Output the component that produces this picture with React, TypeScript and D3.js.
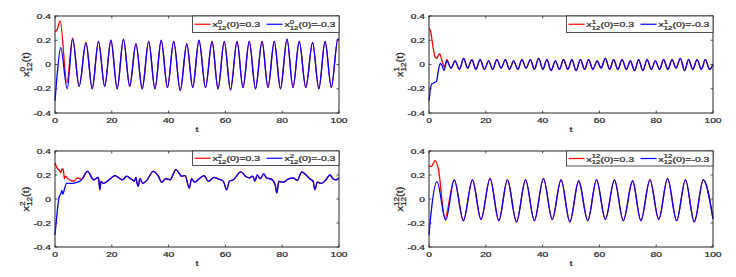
import React from "react";
import * as d3 from "d3";

type Pt = [number, number];

// ---------- data (t, value) ----------
const xTicks = [0, 20, 40, 60, 80, 100];
const yTicks = [-0.4, -0.2, 0, 0.2, 0.4];
const yTickLabels = ["-0.4", "-0.2", "0", "0.2", "0.4"];

// panel 1 (x^0_12)
const p1RedStart: Pt[] = [[0, 0.27], [0.8, 0.29], [1.8, 0.36], [4.2, -0.15], [6.2, 0.22]];
const p1BlueStart: Pt[] = [[0, -0.3], [0.7, -0.1], [2.0, 0.14], [4.3, -0.2], [6.2, 0.21]];
const p1Common: Pt[] = [
  [8.5, -0.18], [10.9, 0.18], [13.1, -0.2], [15.3, 0.19], [17.5, -0.18], [19.7, 0.2],
  [21.9, -0.2], [24.1, 0.21], [26.3, -0.18], [28.5, 0.17], [30.7, -0.2], [33.0, 0.19],
  [35.2, -0.2], [37.4, 0.2], [39.6, -0.19], [41.8, 0.19], [44.1, -0.215], [46.4, 0.17],
  [48.5, -0.19], [50.7, 0.2], [53.0, -0.19], [55.3, 0.19], [57.4, -0.2], [59.6, 0.19],
  [61.8, -0.21], [64.1, 0.19], [66.2, -0.19], [68.4, 0.19], [70.6, -0.2], [72.9, 0.19],
  [75.0, -0.19], [77.2, 0.19], [79.4, -0.2], [81.7, 0.21], [83.8, -0.19], [86.0, 0.19],
  [88.3, -0.19], [90.7, 0.18], [92.9, -0.2], [95.1, 0.19], [97.3, -0.19], [99.6, 0.21],
  [100, 0.205],
];

// panel 2 (x^1_12)
const p2RedStart: Pt[] = [
  [0, 0.3], [0.6, 0.27], [1.2, 0.18], [2.0, 0.07], [2.6, 0.05], [3.0, 0.06], [3.7, 0.09],
  [4.6, 0.03], [5.4, -0.02], [6.3, 0.04],
];
const p2BlueStart: Pt[] = [
  [0, -0.3], [0.5, -0.2], [1.0, -0.16], [1.8, -0.15], [2.6, -0.14], [3.3, -0.05],
  [4.0, 0.01], [4.6, -0.01], [5.3, -0.05], [6.3, 0.03],
];
const p2Common: Pt[] = [
  [7.75, -0.03], [9.2, 0.03], [10.7, -0.04], [12.2, 0.05], [13.6, -0.03], [15.1, 0.04],
  [16.5, -0.04], [18.0, 0.04], [19.5, -0.04], [21.0, 0.03], [22.4, -0.04], [23.9, 0.04],
  [25.4, -0.03], [26.9, 0.04], [28.3, -0.04], [29.8, 0.03], [31.3, -0.04], [32.7, 0.04],
  [34.2, -0.03], [35.7, 0.04], [37.1, -0.04], [38.6, 0.05], [40.1, -0.04], [41.5, 0.04],
  [43.0, -0.05], [44.5, 0.03], [45.9, -0.04], [47.4, 0.04], [48.9, -0.04], [50.3, 0.04],
  [51.8, -0.05], [53.3, 0.04], [54.8, -0.04], [56.2, 0.04], [57.7, -0.04], [59.2, 0.03],
  [60.6, -0.03], [62.1, 0.05], [63.6, -0.04], [65.0, 0.04], [66.5, -0.04], [68.0, 0.04],
  [69.5, -0.04], [70.9, 0.03], [72.4, -0.05], [73.8, 0.04], [75.3, -0.05], [76.8, 0.04],
  [78.3, -0.04], [79.7, 0.03], [81.2, -0.04], [82.6, 0.04], [84.1, -0.04], [85.6, 0.04],
  [87.0, -0.03], [88.5, 0.05], [90.0, -0.05], [91.4, 0.04], [92.9, -0.04], [94.4, 0.04],
  [95.9, -0.04], [97.3, 0.04], [98.8, -0.04], [100, 0.0],
];

// panel 3 (x^2_12)
const p3RedStart: Pt[] = [
  [0, 0.3], [0.5, 0.27], [1, 0.25], [1.5, 0.24], [2, 0.22], [2.5, 0.25], [2.9, 0.247],
  [3.3, 0.17], [3.7, 0.19], [4.5, 0.17], [5.2, 0.16], [6.0, 0.15], [6.8, 0.15],
  [7.8, 0.175], [9.5, 0.165],
];
const p3BlueStart: Pt[] = [
  [0, -0.3], [0.4, -0.2], [1, -0.06], [1.5, 0.02], [2, 0.04], [2.4, 0.07], [2.8, 0.04],
  [3.3, 0.08], [4.1, 0.13], [5, 0.13], [6, 0.13], [7, 0.135], [8, 0.14], [9.5, 0.165],
];
const p3Common: Pt[] = [
  [11.4, 0.23], [13.7, 0.16], [15.3, 0.18], [15.8, 0.077], [16.2, 0.147], [17, 0.13],
  [18, 0.14], [19.4, 0.167], [21.1, 0.195], [22.3, 0.18], [23.8, 0.16], [25.2, 0.19],
  [26.6, 0.17], [28.0, 0.15], [28.5, 0.18], [28.9, 0.13], [29.3, 0.105], [29.9, 0.17],
  [30.9, 0.13], [32.3, 0.155], [34.6, 0.23], [36.4, 0.19], [37.6, 0.14], [39, 0.17],
  [40.5, 0.16], [42.6, 0.245], [44.6, 0.19], [45.8, 0.195], [47.3, 0.09], [48.1, 0.17],
  [49.1, 0.14], [51.1, 0.175], [52.5, 0.195], [54, 0.147], [56, 0.18], [57.5, 0.167],
  [59.3, 0.147], [60.4, 0.077], [61.4, 0.147], [62.8, 0.16], [65.4, 0.226], [67.3, 0.185],
  [68.4, 0.176], [69.6, 0.19], [70.4, 0.15], [71.2, 0.2], [72.3, 0.17], [73.5, 0.21],
  [74.5, 0.175], [76, 0.167], [77.5, 0.12], [78.1, 0.05], [78.8, 0.147], [80.4, 0.14],
  [82.2, 0.167], [83.9, 0.175], [85.3, 0.155], [86.9, 0.226], [88.6, 0.195], [89.8, 0.167],
  [90.9, 0.147], [91.5, 0.077], [92.4, 0.14], [93.9, 0.13], [95.4, 0.16], [96.8, 0.2],
  [98, 0.167], [99, 0.16], [100, 0.175],
];

// panel 4 (x^12_12)
const p4RedStart: Pt[] = [[0, 0.28], [0.8, 0.27], [2.2, 0.32], [3.3, 0.25], [5.6, -0.16]];
const p4BlueStart: Pt[] = [[0, -0.3], [0.8, -0.1], [2.8, 0.145], [5.9, -0.175]];
const p4Common: Pt[] = [
  [8.9, 0.16], [12.1, -0.18], [15.3, 0.16], [18.3, -0.17], [21.5, 0.17], [24.6, -0.18],
  [27.6, 0.16], [30.8, -0.19], [34.0, 0.16], [37.1, -0.18], [40.3, 0.17], [43.4, -0.17],
  [46.5, 0.16], [49.6, -0.19], [52.7, 0.15], [55.9, -0.18], [59.0, 0.16], [62.1, -0.17],
  [65.3, 0.16], [68.4, -0.18], [71.7, 0.15], [74.6, -0.18], [77.8, 0.16], [80.9, -0.17],
  [84.0, 0.17], [87.2, -0.18], [90.3, 0.16], [93.4, -0.19], [96.6, 0.16], [100, -0.165],
];

const superscripts = ["0", "1", "2", "12"];

// ---------- layout ----------
const SX = 1.38; // horizontal stretch of the text in the original figure
const FONT = "'Liberation Sans', Arial, sans-serif";
const TXT = "#262626";
const BOLD = 0.22;

interface PanelDef {
  x0: number; x1: number; y0: number; y1: number;
  red: Pt[]; blue: Pt[]; sup: string; legH: number;
}

const panels: PanelDef[] = [
  { x0: 55, x1: 339, y0: 16, y1: 113, red: [...p1RedStart, ...p1Common], blue: [...p1BlueStart, ...p1Common], sup: superscripts[0], legH: 16.5 },
  { x0: 429, x1: 713, y0: 16, y1: 113, red: [...p2RedStart, ...p2Common], blue: [...p2BlueStart, ...p2Common], sup: superscripts[1], legH: 16.5 },
  { x0: 55, x1: 339, y0: 151, y1: 247, red: [...p3RedStart, ...p3Common], blue: [...p3BlueStart, ...p3Common], sup: superscripts[2], legH: 14.5 },
  { x0: 429, x1: 713, y0: 151, y1: 247, red: [...p4RedStart, ...p4Common], blue: [...p4BlueStart, ...p4Common], sup: superscripts[3], legH: 15 },
];

function charW(s: string, size: number) {
  return s.length * 0.556 * size;
}

function XLabel({ x, y, sup, tail, size = 7.6 }: { x: number; y: number; sup: string; tail: string; size?: number }) {
  const ss = size * 0.75;
  const back = charW(sup, ss);
  return (
    <text transform={`translate(${x},${y}) scale(${SX},1)`} fontFamily={FONT} fontSize={size} fill={TXT} stroke={TXT} strokeWidth={BOLD}>
      x
      <tspan fontSize={ss} dy={-3.6}>{sup}</tspan>
      <tspan fontSize={ss} dx={-back} dy={6.0}>12</tspan>
      <tspan fontSize={size} dy={-2.4}>{tail}</tspan>
    </text>
  );
}

function Panel({ p }: { p: PanelDef }) {
  const x = d3.scaleLinear().domain([0, 100]).range([p.x0, p.x1]);
  const y = d3.scaleLinear().domain([-0.4, 0.4]).range([p.y1, p.y0]);
  const line = d3.line<Pt>().x((d) => x(d[0])).y((d) => y(d[1])).curve(d3.curveMonotoneX);
  const tl = 2.5;
  const legW = 146.5;
  const legL = p.x1 - legW;
  const cy = p.y0 + p.legH / 2;
  const ys = 8.4;
  const yss = ys * 0.75;
  return (
    <g>
      <rect x={p.x0} y={p.y0} width={p.x1 - p.x0} height={p.y1 - p.y0} fill="#fff" />
      <path d={line(p.red) || ""} fill="none" stroke="#ff0000" strokeWidth={1.3} />
      <path d={line(p.blue) || ""} fill="none" stroke="#0000ff" strokeWidth={1.3} />
      {xTicks.map((t) => (
        <g key={"x" + t}>
          <line x1={x(t)} x2={x(t)} y1={p.y1} y2={p.y1 - tl} stroke={TXT} strokeWidth={0.8} />
          <line x1={x(t)} x2={x(t)} y1={p.y0} y2={p.y0 + tl} stroke={TXT} strokeWidth={0.8} />
          <text transform={`translate(${x(t)},${p.y1 + 9.5}) scale(${SX},1)`} textAnchor="middle" fontFamily={FONT} fontSize={7.4} fill={TXT} stroke={TXT} strokeWidth={BOLD}>
            {t}
          </text>
        </g>
      ))}
      {yTicks.map((v, i) => (
        <g key={"y" + v}>
          <line x1={p.x0} x2={p.x0 + tl} y1={y(v)} y2={y(v)} stroke={TXT} strokeWidth={0.8} />
          <line x1={p.x1} x2={p.x1 - tl} y1={y(v)} y2={y(v)} stroke={TXT} strokeWidth={0.8} />
          <text transform={`translate(${p.x0 - 4},${y(v) + 2.6}) scale(${SX},1)`} textAnchor="end" fontFamily={FONT} fontSize={7.4} fill={TXT} stroke={TXT} strokeWidth={BOLD}>
            {yTickLabels[i]}
          </text>
        </g>
      ))}
      <rect x={p.x0} y={p.y0} width={p.x1 - p.x0} height={p.y1 - p.y0} fill="none" stroke={TXT} strokeWidth={1} />
      <text transform={`translate(${(p.x0 + p.x1) / 2},${p.y1 + 18.5}) scale(${SX},1)`} textAnchor="middle" fontFamily={FONT} fontSize={8} fill={TXT} stroke={TXT} strokeWidth={BOLD}>
        t
      </text>
      <text
        transform={`translate(${p.x0 - 26},${(p.y0 + p.y1) / 2}) rotate(-90) scale(1.3,1.15)`}
        textAnchor="middle"
        fontFamily={FONT}
        fontSize={ys}
        fill={TXT}
        stroke={TXT}
        strokeWidth={BOLD}
      >
        x
        <tspan fontSize={yss} dy={-3.8}>{p.sup}</tspan>
        <tspan fontSize={yss} dx={-charW(p.sup, yss)} dy={6.4}>12</tspan>
        <tspan fontSize={ys} dy={-2.6}>(t)</tspan>
      </text>
      <rect x={legL} y={p.y0} width={legW} height={p.legH} fill="#fff" stroke={TXT} strokeWidth={0.8} />
      <line x1={legL + 2} x2={legL + 18} y1={cy} y2={cy} stroke="#ff0000" strokeWidth={1.2} />
      <XLabel x={legL + 20} y={cy + 3.2} sup={p.sup} tail="(0)=0.3" />
      <line x1={legL + 74} x2={legL + 90} y1={cy} y2={cy} stroke="#0000ff" strokeWidth={1.2} />
      <XLabel x={legL + 92} y={cy + 3.2} sup={p.sup} tail="(0)=-0.3" />
    </g>
  );
}

export default function App() {
  return (
    <svg width={736} height={277} style={{ position: "absolute", left: 0, top: 0, background: "#fff" }}>
      <rect width={736} height={277} fill="#fff" />
      {panels.map((p, i) => (
        <Panel key={i} p={p} />
      ))}
    </svg>
  );
}
